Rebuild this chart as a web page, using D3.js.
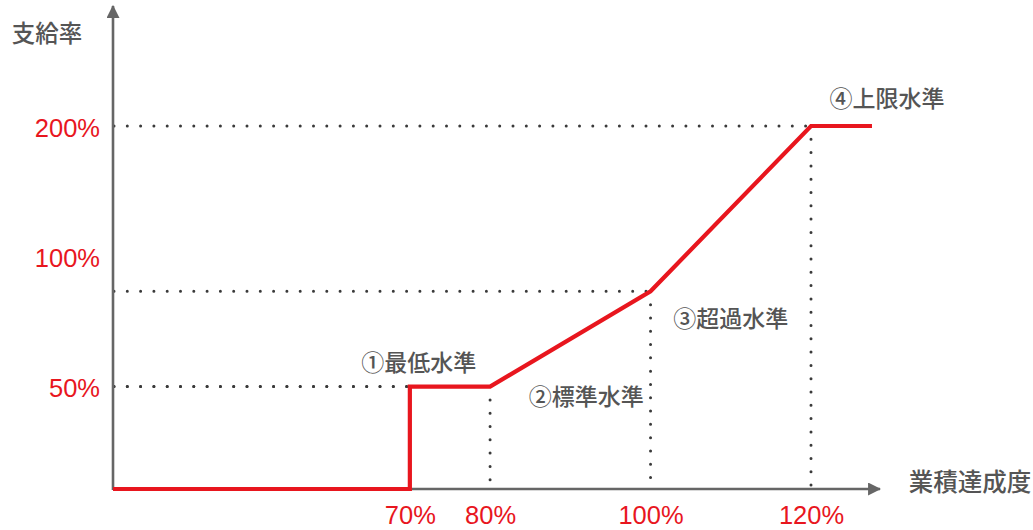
<!DOCTYPE html>
<html>
<head>
<meta charset="utf-8">
<script src="https://cdn.jsdelivr.net/npm/d3@7"></script>
<style>
  html, body { margin: 0; padding: 0; background: #fff; }
  svg { display: block; }
</style>
</head>
<body>
<svg id="chart" width="1033" height="530"></svg>
<script>
// ---- data ----
const achievement = [33, 70, 70, 80, 100, 120, 127.6];   // 業績達成度 (%)
const payout      = [0, 0, 50, 50, 83, 200, 200];         // 支給率 (%)
const xTickValues = [70, 80, 100, 120];
const xTickLabels = ["70%", "80%", "100%", "120%"];
const yTickValues = [200, 100, 50];
const yTickLabels = ["200%", "100%", "50%"];
const guideAchievement = [70, 80, 100, 120];
const guidePayout      = [50, 50, 83, 200];
const levelLabels = ["①最低水準", "②標準水準", "③超過水準", "④上限水準"];
const levelAchievement = [70, 90, 110, 120];
const levelPayout      = [50, 50, 83, 200];
const yTitle = "支給率";
const xTitle = "業積達成度";

// ---- scales ----
const svg = d3.select("#chart");
const x = d3.scaleLinear().domain([33, 128.6]).range([113, 880]);
const y = d3.scaleLog().domain([29, 200]).range([489, 126]).clamp(true);

const RED = "#e8161e";
const AXIS = "#666";
const DOT = "#3a3a3a";
const TXT = "#555";
const cjk = "'Noto Sans CJK JP', 'Noto Sans', sans-serif";
const latin = "Arial, 'Liberation Sans', sans-serif";

// ---- dotted guide lines ----
const g = svg.append("g");
const dotted = sel => sel.attr("stroke", DOT).attr("stroke-width", 3)
  .attr("stroke-linecap", "round").attr("stroke-dasharray", "0 13.3").attr("fill", "none");

g.selectAll("line.h").data(guideAchievement.map((a, i) => [a, guidePayout[i]]))
  .join("line").attr("class", "h")
  .attr("x1", x(33) + 1).attr("x2", d => x(d[0]))
  .attr("y1", d => y(d[1])).attr("y2", d => y(d[1]))
  .call(dotted);

g.selectAll("line.v").data(guideAchievement.slice(1).map((a, i) => [a, guidePayout[i + 1]]))
  .join("line").attr("class", "v")
  .attr("x1", d => x(d[0])).attr("x2", d => x(d[0]))
  .attr("y1", d => y(d[1])).attr("y2", y(0))
  .call(dotted);

// ---- axes lines with arrows ----
svg.append("defs").append("marker")
  .attr("id", "arrow").attr("viewBox", "0 0 12 12").attr("refX", 11).attr("refY", 6)
  .attr("markerWidth", 13).attr("markerHeight", 13).attr("markerUnits", "userSpaceOnUse")
  .attr("orient", "auto")
  .append("path").attr("d", "M0,0 L12,6 L0,12 Z").attr("fill", AXIS);

svg.append("line").attr("x1", x(33)).attr("x2", x(33))
  .attr("y1", y(0) + 1).attr("y2", 6)
  .attr("stroke", AXIS).attr("stroke-width", 2.6).attr("marker-end", "url(#arrow)");
svg.append("line").attr("x1", x(33)).attr("x2", x(128.6))
  .attr("y1", y(0)).attr("y2", y(0))
  .attr("stroke", AXIS).attr("stroke-width", 2.6).attr("marker-end", "url(#arrow)");

// ---- tick labels via axes ----
const yAxis = d3.axisLeft(y).tickValues(yTickValues).tickSize(0).tickPadding(13)
  .tickFormat((d, i) => yTickLabels[i]);
const ya = svg.append("g").attr("transform", `translate(${x(33)},0)`).call(yAxis);
ya.select(".domain").remove();
ya.selectAll("text").attr("fill", RED).attr("font-family", latin).attr("font-size", 25.5)
  .attr("dy", "0.4em");

const xAxis = d3.axisBottom(x).tickValues(xTickValues).tickSize(0).tickPadding(17)
  .tickFormat((d, i) => xTickLabels[i]);
const xa = svg.append("g").attr("transform", `translate(0,${y(0)})`).call(xAxis);
xa.select(".domain").remove();
xa.selectAll("text").attr("fill", RED).attr("font-family", latin).attr("font-size", 25.5);

// ---- red payout line ----
svg.append("path")
  .datum(achievement.map((a, i) => [a, payout[i]]))
  .attr("d", d3.line().x(d => x(d[0])).y(d => y(d[1])))
  .attr("fill", "none").attr("stroke", RED).attr("stroke-width", 4.2)
  .attr("stroke-linejoin", "miter");

// ---- level annotations ----
const offsets = [[9, -26], [16, 8], [0, 26], [76, -29]];
svg.selectAll("text.level").data(levelLabels).join("text").attr("class", "level")
  .attr("x", (d, i) => x(levelAchievement[i]) + offsets[i][0])
  .attr("y", (d, i) => y(levelPayout[i]) + offsets[i][1])
  .attr("text-anchor", "middle").attr("dominant-baseline", "central")
  .attr("font-family", cjk).attr("font-size", 23).attr("font-weight", 500)
  .attr("fill", TXT).text(d => d);

// ---- axis titles ----
svg.append("text").attr("x", 47).attr("y", 32).attr("text-anchor", "middle")
  .attr("dominant-baseline", "central").attr("font-family", cjk).attr("font-size", 23.5)
  .attr("font-weight", 500).attr("fill", TXT).text(yTitle);
svg.append("text").attr("x", 970).attr("y", 480).attr("text-anchor", "middle")
  .attr("dominant-baseline", "central").attr("font-family", cjk).attr("font-size", 24.5)
  .attr("font-weight", 500).attr("fill", TXT).text(xTitle);
</script>
</body>
</html>
